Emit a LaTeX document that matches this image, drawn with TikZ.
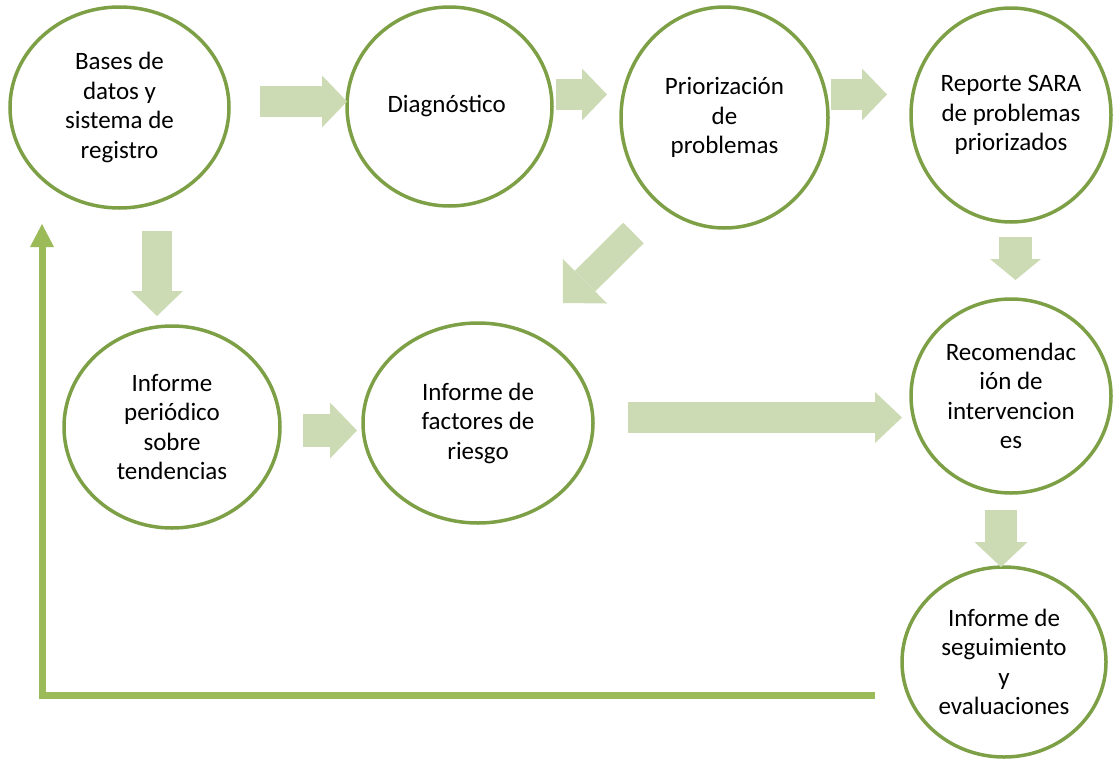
\documentclass[tikz,border=0pt]{standalone}
\usepackage{fontspec}
\setmainfont{Carlito}
\usetikzlibrary{shapes.geometric,arrows.meta}
\definecolor{ringgreen}{HTML}{7DA046}
\definecolor{blkgreen}{HTML}{CCDBB4}
\definecolor{loopgreen}{HTML}{9BBB59}
\tikzset{
	stage/.style={draw=ringgreen, line width=3.5pt, ellipse, inner sep=0pt, align=center,
		font=\fontsize{25}{29.5}\selectfont},
	blk/.style={draw=blkgreen, line width=31pt, -{Triangle[width=52pt,length=25pt,line width=0pt]}},
	loopline/.style={draw=loopgreen, line width=7pt, -{Triangle[width=24pt,length=23pt,line width=0pt]}}
}

\begin{document}
\begin{tikzpicture}[x=1pt, y=-1pt]
		\useasboundingbox (0,0) rectangle (1113,758);
		\node[stage, minimum width=219pt, minimum height=201pt] (bases) at (119.5,107.5) {
			Bases de\\datos y\\sistema de\\registro
		};
        \node[stage, minimum width=205pt, minimum height=199pt] (diag) at (449.5,106.5) {
            Diagnóstico
        };
        \node[stage, minimum width=207pt, minimum height=221pt] (prio) at (724.5,117.5) {
        	Priorización\\de\\problemas
        };
        \node[stage, minimum width=200pt, minimum height=214pt] (sara) at (1011,115) {
        	Reporte SARA\\de problemas\\priorizados
        };
        \node[stage, minimum width=216pt, minimum height=202pt] (tend) at (172,427) {
        	Informe\\periódico\\sobre\\tendencias
        };
        \node[stage, minimum width=230pt, minimum height=200pt] (fact) at (478,423) {
        	Informe de\\factores de\\riesgo
        };
        \node[stage, minimum width=200pt, minimum height=194pt] (reco) at (1011,396) {
        	Recomendac\\ión de\\intervencion\\es
        };
        \node[stage, minimum width=204pt, minimum height=190pt] (segu) at (1004,662) {
        	Informe de\\seguimiento\\y\\evaluaciones
        };
        \draw[blk] ([shift={(140.5,-6)}]bases.center) -- ([shift={(-102.5,-5)}]diag.center);
        \draw[blk] ([shift={(106.5,-12)}]diag.center) -- ([shift={(-117.5,-23)}]prio.center);
        \draw[blk] ([shift={(106.5,-23)}]prio.center) -- ([shift={(-124,-20.5)}]sara.center);
        \draw[blk, line width=30pt] ([shift={(37.5,123.5)}]bases.center) -- ([shift={(-15,-111)}]tend.center);
        \draw[blk, line width=33pt, -{Triangle[width=56pt,length=27pt,line width=0pt]}] ([shift={(131,3.5)}]tend.center) -- ([shift={(-121,7.5)}]fact.center);
        \draw[blk, line width=29pt, -{Triangle[width=63pt,length=31pt,line width=0pt]}] ([shift={(-91,115.5)}]prio.center) -- ([shift={(85,-120)}]fact.center);
        \draw[blk, -{Triangle[width=51pt,length=27pt,line width=0pt]}] ([shift={(150,-5.5)}]fact.center) -- ([shift={(-109,21.5)}]reco.center);
        \draw[blk, line width=33pt, -{Triangle[width=51pt,length=21pt,line width=0pt]}] ([shift={(4.5,122)}]sara.center) -- ([shift={(4.5,-116)}]reco.center);
        \draw[blk, line width=32pt, -{Triangle[width=53pt,length=25pt,line width=0pt]}] ([shift={(-10,114)}]reco.center) -- ([shift={(-3,-95)}]segu.center);
        \draw[loopline] ([shift={(-129,33)}]segu.center) -| ([shift={(-77.5,116.5)}]bases.center);
\end{tikzpicture}
\end{document}
